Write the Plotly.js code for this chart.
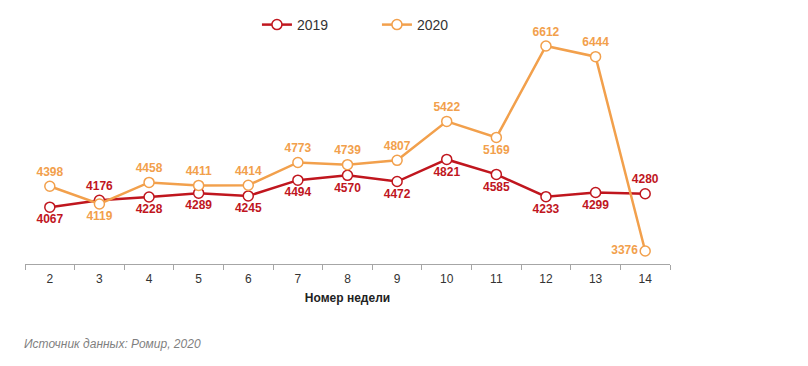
<!DOCTYPE html>
<html>
<head>
<meta charset="utf-8">
<script src="https://cdn.plot.ly/plotly-3.0.1.min.js"></script>
<style>
html,body{margin:0;padding:0;background:#fff;}
#chart{width:808px;height:366px;}
</style>
</head>
<body>
<div id="chart"></div>
<script>
const weeks = ['2','3','4','5','6','7','8','9','10','11','12','13','14'];
const values2019 = [4067,4176,4228,4289,4245,4494,4570,4472,4821,4585,4233,4299,4280];
const values2020 = [4398,4119,4458,4411,4414,4773,4739,4807,5422,5169,6612,6444,3376];
const pos2019 = ['bottom center','top center','bottom center','bottom center','bottom center','bottom center','bottom center','bottom center','bottom center','bottom center','bottom center','bottom center','top center'];
const pos2020 = ['top center','bottom center','top center','top center','top center','top center','top center','top center','top center','bottom center','top center','top center','middle left'];

const red = '#c0161e';
const orange = '#f2a04c';

const traces = [
  {
    x: weeks, y: values2019, name: '2019', type: 'scatter', mode: 'lines+markers+text',
    line: {color: red, width: 2.5},
    marker: {size: 10, color: '#ffffff', line: {color: red, width: 1.5}},
    text: values2019.map(String), textposition: pos2019,
    textfont: {family: 'Liberation Sans, Arial, sans-serif', size: 12, color: red, weight: 'bold'},
    cliponaxis: false
  },
  {
    x: weeks, y: values2020, name: '2020', type: 'scatter', mode: 'lines+markers+text',
    line: {color: orange, width: 2.5},
    marker: {size: 10, color: '#ffffff', line: {color: orange, width: 1.5}},
    text: values2020.map(String), textposition: pos2020,
    textfont: {family: 'Liberation Sans, Arial, sans-serif', size: 12, color: orange, weight: 'bold'},
    cliponaxis: false
  }
];

const layout = {
  width: 808, height: 366,
  margin: {l: 25, r: 138, t: 30, b: 102, autoexpand: false},
  paper_bgcolor: '#ffffff', plot_bgcolor: '#ffffff',
  font: {family: 'Liberation Sans, Arial, sans-serif', color: '#333333', size: 12},
  showlegend: true,
  legend: {orientation: 'h', xref: 'container', x: 0.318, xanchor: 'left',
           yref: 'container', y: 1 - 25/366, yanchor: 'middle',
           font: {size: 14, color: '#333333'}, entrywidth: 75, entrywidthmode: 'pixels',
           bgcolor: 'rgba(0,0,0,0)'},
  xaxis: {
    type: 'category', range: [-0.5, 12.5],
    showgrid: false, zeroline: false,
    showline: true, linecolor: '#a6a6a6', linewidth: 1,
    ticks: 'outside', tickson: 'boundaries', ticklen: 5, tickcolor: '#a6a6a6',
    ticklabelstandoff: 4,
    tickfont: {size: 12, color: '#333333'},
    title: {text: '<b>Номер недели</b>', font: {size: 12, color: '#222222'}, standoff: 8}
  },
  yaxis: {
    range: [3170, 6865], visible: false, showgrid: false, zeroline: false, fixedrange: true
  },
  annotations: [
    {text: 'Источник данных: Ромир, 2020', xref: 'paper', yref: 'paper',
     x: -0.005, y: -0.34, xanchor: 'left', yanchor: 'middle', showarrow: false,
     font: {size: 12, color: '#7f7f7f', style: 'italic'}}
  ]
};

Plotly.newPlot('chart', traces, layout, {displayModeBar: false, staticPlot: true});
</script>
</body>
</html>
